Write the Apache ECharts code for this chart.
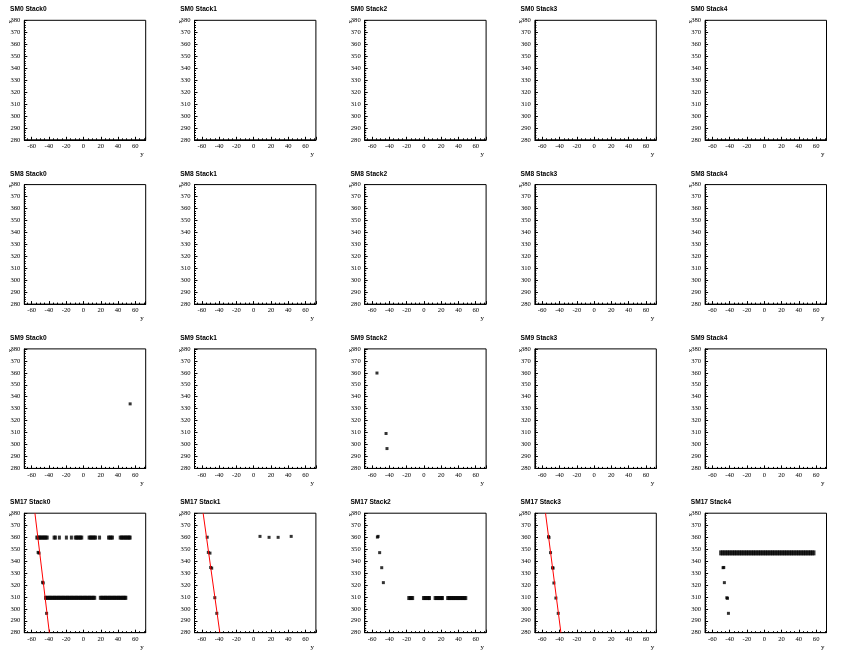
<!DOCTYPE html>
<html><head><meta charset="utf-8">
<script src="https://cdn.jsdelivr.net/npm/echarts@6/dist/echarts.min.js"></script>
<style>html,body{margin:0;padding:0;background:#fff}#c{width:851px;height:656px}</style>
</head><body><div id="c"></div><script>
// ---- labels ----
const modules = ['SM0', 'SM8', 'SM9', 'SM17'];
const stacks = ['Stack0', 'Stack1', 'Stack2', 'Stack3', 'Stack4'];
const xAxisRange = [-68.5, 72];
const yAxisRange = [280, 380];
const yTickStep = 10;
const xAxisTitle = 'y';
const yAxisTitle = 'x';

// ---- data (horizontal = y, vertical = x) ----
const sm9Stack0 = [[54, 334]];
const sm9Stack2 = [[-54.3, 359.8], [-43.8, 309.2], [-42.7, 296.6]];

const sm17Stack0Points = [[-52.5, 347.2], [-51.5, 346.6], [-47.3, 322.2], [-46.6, 321.6], [-42.7, 296.2]];
const sm17Stack0Row360X = [-54, -52.5, -51, -49.5, -48, -46.5, -45, -43.5, -42, -34, -32.5, -27.9, -19.8, -14,
  -9.5, -8, -6.5, -5, -3.5, -2, 6.5, 8, 9.5, 11, 12.5, 14, 18.6, 29, 30.5, 32, 33.5,
  42.5, 44, 45.5, 47, 48.5, 50, 51.5, 53, 54];
const sm17Stack0Row360Y = 359.6;
const sm17Stack0Row309X = [-44, -42.5, -41, -39.5, -38, -36.5, -35, -33.5, -32, -30.5, -29, -27.5, -26, -24.5,
  -23, -21.5, -20, -18.5, -17, -15.5, -14, -12.5, -11, -9.5, -8, -6.5, -5, -3.5, -2, -0.5, 1, 2.5, 4,
  5.5, 7, 8.5, 10, 11.5, 13, 19.5, 21, 22.5, 24, 25.5, 27, 28.5, 30, 31.5, 33, 34.5, 36, 37.5, 39,
  40.5, 42, 43.5, 45, 46.5, 48, 49];
const sm17Stack0Row309Y = 309.2;
const sm17Stack0Fit = [[-56.2, 380], [-39.5, 280]];

const sm17Stack1Points = [[-53.8, 359.9], [-52.5, 347.2], [-50.6, 346.6], [-49.8, 334.6], [-48.6, 334.0],
  [-45, 309.3], [-42.7, 296.2], [7.3, 360.6], [17.8, 359.8], [28.3, 359.8], [43.4, 360.6]];
const sm17Stack1Fit = [[-58.5, 380], [-39.2, 280]];

const sm17Stack2Points = [[-53.8, 360], [-53, 360.6], [-51.2, 347], [-48.8, 334.4], [-46.9, 321.9]];
const sm17Stack2Row309X = [-17.5, -16, -14.5, -13, -0.5, 1, 2.5, 4, 5.5, 6.5, 13, 14.5, 16, 17.5, 19, 20.5, 21.5,
  27.5, 29, 30.5, 32, 33.5, 35, 36.5, 38, 39.5, 41, 42.5, 44, 45.5, 47, 48.5];
const sm17Stack2Row309Y = 309;

const sm17Stack3Points = [[-52.7, 360.4], [-52.2, 359.6], [-50.4, 347], [-48, 334.4], [-47.5, 334.0],
  [-46.5, 321.6], [-44.2, 309], [-41.5, 296.2]];
const sm17Stack3Fit = [[-56.2, 380], [-38.4, 280]];

const sm17Stack4Points = [[-47.7, 334.4], [-46.9, 334.6], [-46.2, 321.9], [-43.4, 309.2], [-42.6, 308.8], [-41.5, 296.2]];
const sm17Stack4Row347X = [-50.5, -48.5, -46.5, -44.5, -42.5, -40.5, -38.5, -36.5, -34.5, -32.5, -30.5, -28.5,
  -26.5, -24.5, -22.5, -20.5, -18.5, -16.5, -14.5, -12.5, -10.5, -8.5, -6.5, -4.5, -2.5, -0.5, 1.5, 3.5,
  5.5, 7.5, 9.5, 11.5, 13.5, 15.5, 17.5, 19.5, 21.5, 23.5, 25.5, 27.5, 29.5, 31.5, 33.5, 35.5, 37.5,
  39.5, 41.5, 43.5, 45.5, 47.5, 49.5, 51.5, 53.5, 55.5, 57.5];
const sm17Stack4Row347Y = 346.8;

// ---- panel contents: [row][col] ----
function row(xs, y) { return xs.map(x => [x, y]); }
const panelContent = {
  '2-0': { points: [sm9Stack0] },
  '2-2': { points: [sm9Stack2] },
  '3-0': { points: [sm17Stack0Points], rows: [row(sm17Stack0Row360X, sm17Stack0Row360Y), row(sm17Stack0Row309X, sm17Stack0Row309Y)], fit: sm17Stack0Fit },
  '3-1': { points: [sm17Stack1Points], fit: sm17Stack1Fit },
  '3-2': { points: [sm17Stack2Points], rows: [row(sm17Stack2Row309X, sm17Stack2Row309Y)] },
  '3-3': { points: [sm17Stack3Points], fit: sm17Stack3Fit },
  '3-4': { points: [sm17Stack4Points], rows: [row(sm17Stack4Row347X, sm17Stack4Row347Y)], thickRows: true }
};

// ---- layout ----
const PANEL_W = 170.2, PANEL_H = 164.3;
const FRAME_L = 24.3, FRAME_T = 20.3, FRAME_W = 121.4, FRAME_H = 119.5;
const SERIF = 'Liberation Serif';
const SANS = 'Liberation Sans';

const grids = [], xAxes = [], yAxes = [], titles = [], series = [], graphics = [];
modules.forEach((m, r) => {
  stacks.forEach((s, c) => {
    const i = grids.length;
    const px = c * PANEL_W, py = r * PANEL_H;
    grids.push({ left: px + FRAME_L, top: py + FRAME_T, width: FRAME_W, height: FRAME_H,
      show: true, borderColor: '#000', borderWidth: 1, backgroundColor: '#fff', containLabel: false, outerBoundsMode: 'none' });
    titles.push({ text: m + ' ' + s, left: px + 10, top: py + 5.5, padding: 0,
      textStyle: { fontFamily: SANS, fontWeight: 'bold', fontSize: 6.6, color: '#000', lineHeight: 8 } });
    xAxes.push({ gridIndex: i, type: 'value', min: xAxisRange[0], max: xAxisRange[1], splitNumber: 7,
      axisLine: { show: true, onZero: false, lineStyle: { color: '#000', width: 1 } },
      axisTick: { show: true, inside: true, length: 3, lineStyle: { color: '#000', width: 1 } },
      minorTick: { show: true, splitNumber: 4, length: 1.5, lineStyle: { color: '#000', width: 1 } },
      splitLine: { show: false },
      axisLabel: { showMinLabel: false, showMaxLabel: false, margin: 3, fontFamily: SERIF, fontSize: 6.6, color: '#000' },
      name: xAxisTitle, nameLocation: 'end', nameGap: 0,
      nameTextStyle: { fontFamily: SERIF, fontSize: 7, color: '#000', align: 'right', verticalAlign: 'top', padding: [11, 2, 0, 0] } });
    yAxes.push({ gridIndex: i, type: 'value', min: yAxisRange[0], max: yAxisRange[1], interval: yTickStep,
      axisLine: { show: true, onZero: false, lineStyle: { color: '#000', width: 1 } },
      axisTick: { show: true, inside: true, length: 3, lineStyle: { color: '#000', width: 1 } },
      minorTick: { show: true, splitNumber: 5, length: 1.5, lineStyle: { color: '#000', width: 1 } },
      splitLine: { show: false },
      axisLabel: { showMinLabel: true, showMaxLabel: true, margin: 4, fontFamily: SERIF, fontSize: 6.6, color: '#000' } });
    graphics.push({ type: 'text', x: px + 9.8, y: py + 21.8, rotation: Math.PI / 2, silent: true,
      style: { text: yAxisTitle, fontFamily: SERIF, fontSize: 7, fill: '#000', align: 'center', verticalAlign: 'middle' } });
    const content = panelContent[r + '-' + c];
    if (content) {
      (content.points || []).forEach(d => series.push({ type: 'scatter', xAxisIndex: i, yAxisIndex: i, data: d,
        symbol: 'rect', symbolSize: 3, itemStyle: { color: '#000' }, silent: true, animation: false }));
      (content.rows || []).forEach(d => series.push({ type: 'scatter', xAxisIndex: i, yAxisIndex: i, data: d,
        symbol: 'rect', symbolSize: content.thickRows ? [3, 5] : [3, 4], itemStyle: { color: '#000' }, silent: true, animation: false }));
      if (content.fit) series.push({ type: 'line', xAxisIndex: i, yAxisIndex: i, data: content.fit,
        symbol: 'none', showSymbol: false, clip: true, lineStyle: { color: '#ff0000', width: 1 }, silent: true, animation: false, z: 3 });
    }
  });
});

const chart = echarts.init(document.getElementById('c'), null, { renderer: 'canvas' });
chart.setOption({ animation: false, backgroundColor: '#fff', title: titles, grid: grids, xAxis: xAxes, yAxis: yAxes, series, graphic: graphics });
</script></body></html>
